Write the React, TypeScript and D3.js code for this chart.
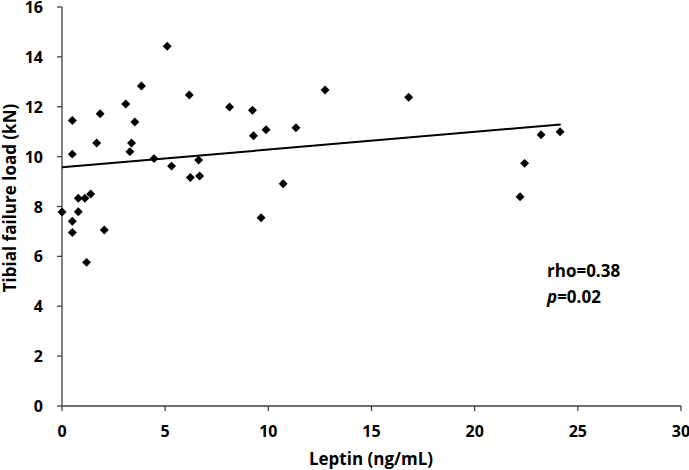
import React from "react";
import * as d3 from "d3";

const leptin = [0, 0.5, 0.5, 0.5, 0.5, 0.79, 0.79, 1.11, 1.19, 1.39, 1.68, 1.85, 2.05, 3.09, 3.29, 3.37, 3.53, 3.85, 4.46, 5.1, 5.31, 6.17, 6.22, 6.62, 6.67, 8.12, 9.23, 9.28, 9.65, 9.89, 10.72, 11.34, 12.75, 16.8, 22.2, 22.42, 23.22, 24.14];
const load = [7.78, 11.45, 10.1, 7.41, 6.96, 7.79, 8.33, 8.33, 5.76, 8.5, 10.55, 11.72, 7.06, 12.11, 10.2, 10.55, 11.39, 12.83, 9.92, 14.43, 9.62, 12.47, 9.16, 9.86, 9.22, 11.99, 11.86, 10.84, 7.55, 11.08, 8.91, 11.16, 12.67, 12.38, 8.39, 9.73, 10.88, 11.0];
const trendX = [0, 24.17];
const trendY = [9.57, 11.29];
const xTicks = [0, 5, 10, 15, 20, 25, 30];
const yTicks = [0, 2, 4, 6, 8, 10, 12, 14, 16];

const W = 689;
const H = 470;
const FONT = "'Open Sans', Lato, sans-serif";

export default function App() {
  const x = d3.scaleLinear().domain([0, 30]).range([62, 681]);
  const y = d3.scaleLinear().domain([0, 16]).range([406, 7]);
  const diamond = d3.symbol(d3.symbolSquare, 40)();
  const line = d3.line<number>().x((d) => x(trendX[d])).y((d) => y(trendY[d]));
  const axisColor = "#404040";

  return (
    <svg width={W} height={H} style={{ position: "absolute", left: 0, top: 0, background: "#fff" }} fontFamily={FONT}>
      {/* axes */}
      <line x1={x(0)} x2={x(30)} y1={y(0)} y2={y(0)} stroke={axisColor} strokeWidth={1.3} />
      <line x1={x(0)} x2={x(0)} y1={y(0)} y2={y(16)} stroke={axisColor} strokeWidth={1.3} />
      {xTicks.map((t) => (
        <g key={"x" + t}>
          <line x1={x(t)} x2={x(t)} y1={y(0)} y2={y(0) + 5} stroke={axisColor} strokeWidth={1.3} />
          <text x={x(t)} y={y(0) + 31} textAnchor="middle" fontSize={16} fontWeight="bold" fill="#000">{t}</text>
        </g>
      ))}
      {yTicks.map((t) => (
        <g key={"y" + t}>
          <line x1={x(0) - 5} x2={x(0)} y1={y(t)} y2={y(t)} stroke={axisColor} strokeWidth={1.3} />
          <text x={43} y={y(t) + 6} textAnchor="end" fontSize={16} fontWeight="bold" fill="#000">{t}</text>
        </g>
      ))}
      <text x={371} y={465} textAnchor="middle" fontSize={17} fontWeight="bold" fill="#000">Leptin (ng/mL)</text>
      <text transform={`translate(16,198) rotate(-90)`} textAnchor="middle" fontSize={17} fontWeight="bold" fill="#000">Tibial failure load (kN)</text>
      {/* trend line */}
      <path d={line([0, 1]) || ""} fill="none" stroke="#000" strokeWidth={2} />
      {/* points */}
      {leptin.map((v, i) => (
        <path key={i} d={diamond} transform={`translate(${x(v)},${y(load[i])}) rotate(45)`} fill="#000" />
      ))}
      <text x={547} y={277} fontSize={17} fontWeight="bold" fill="#000">rho=0.38</text>
      <text x={547} y={303} fontSize={17} fontWeight="bold" fill="#000"><tspan fontStyle="italic">p</tspan>=0.02</text>
    </svg>
  );
}
